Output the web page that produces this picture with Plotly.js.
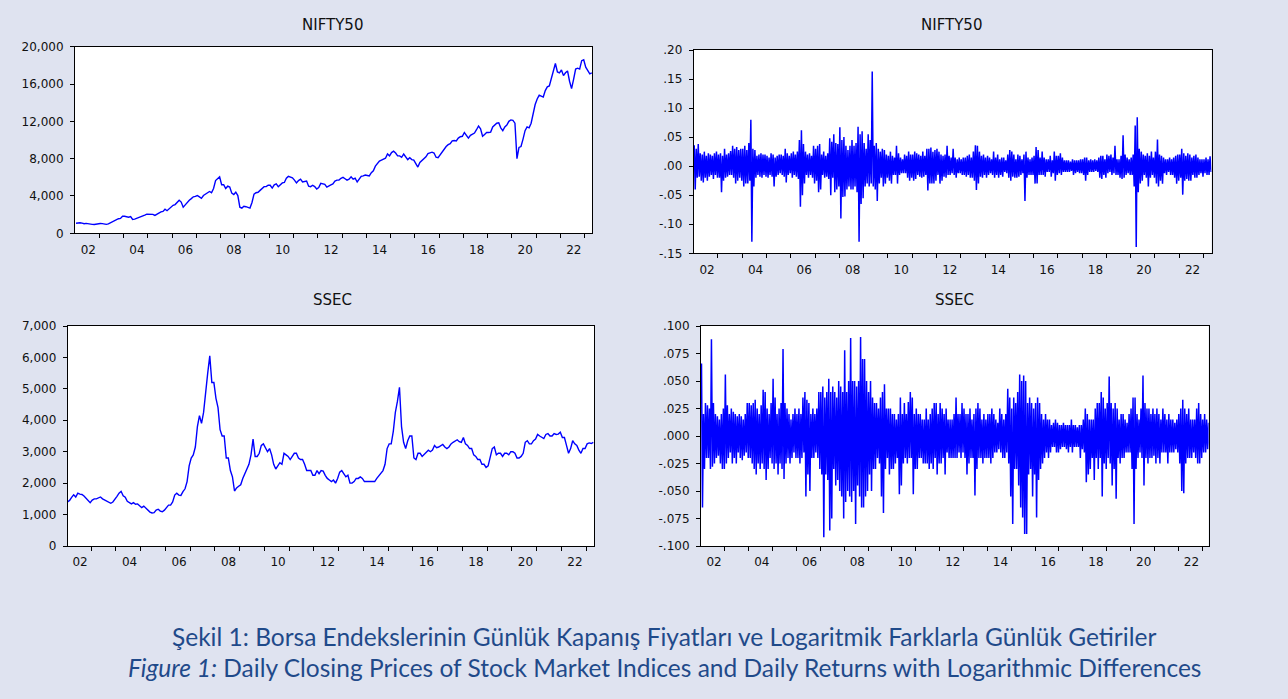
<!DOCTYPE html>
<html><head><meta charset="utf-8">
<script src="https://cdn.plot.ly/plotly-3.0.1.min.js"></script>
<style>html,body{margin:0;padding:0;background:#dfe3f0;}#chart{width:1288px;height:699px;}</style>
</head><body><div id="chart"></div>
<script>
// monthly series, Jan 2002 .. Apr 2023
const startYear = 2002;
const yearLabels = ["02","04","06","08","10","12","14","16","18","20","22"];
const yearBounds = [2003,2004,2005,2006,2007,2008,2009,2010,2011,2012,2013,2014,2015,2016,2017,2018,2019,2020,2021,2022,2023];

const niftyClose = [
1080,1120,1130,1090,1030,1060,1000,980,960,950,1000,1080,
1050,1040,990,960,1010,1130,1180,1330,1420,1560,1600,1830,
1830,1800,1730,1800,1480,1520,1600,1650,1740,1790,1950,2050,
2040,2060,2030,1920,2050,2200,2300,2350,2580,2420,2650,2830,
3000,3080,3380,3550,3350,2800,3050,3350,3550,3720,3910,3950,
4050,3900,3750,4050,4220,4300,4480,4350,4800,5650,5900,6050,
5200,5200,4800,5050,4950,4300,4150,4400,4050,2800,2700,2900,
2850,2750,2700,3300,4200,4350,4400,4600,4850,5000,5000,5150,
5150,4850,5200,5300,5000,5200,5400,5450,5900,6100,6000,5950,
5700,5400,5650,5800,5500,5550,5600,5050,5000,5150,5000,4750,
4900,5350,5300,5250,4950,5100,5200,5300,5600,5700,5700,5900,
6000,5850,5700,5800,6050,5800,5900,5500,5750,6100,6150,6250,
6200,6150,6500,6700,7200,7500,7750,7850,7950,8050,8500,8300,
8650,8800,8600,8300,8300,8150,8500,8200,7900,8100,7900,7850,
7500,7100,7600,7800,8000,8200,8550,8650,8700,8600,8150,8100,
8400,8800,9100,9300,9500,9600,9900,9950,9900,10200,10350,10400,
10800,10450,10200,10500,10650,10750,11100,11500,11200,10400,10600,10800,
10800,10850,11400,11650,11800,11850,11300,11000,11400,11600,12000,12150,
12100,11800,8000,9200,9300,10100,11000,11400,11300,11800,12800,13800,
14400,14800,14700,14600,15300,15700,15800,16600,17600,18200,17300,17200,
17500,16900,17200,17400,16300,15500,16500,17600,17700,17600,18500,18600,
17800,17500,17100,17200];

const ssecClose = [
1400,1450,1550,1630,1560,1680,1650,1640,1590,1520,1440,1380,
1460,1500,1500,1530,1560,1500,1470,1430,1390,1360,1400,1480,
1580,1680,1740,1600,1550,1420,1390,1340,1380,1330,1340,1280,
1220,1270,1200,1150,1080,1050,1060,1140,1170,1110,1090,1140,
1230,1300,1300,1400,1620,1680,1620,1610,1730,1820,2050,2550,
2800,2900,3150,3800,4150,3900,4250,5000,5500,6050,5200,5200,
4700,4400,3700,3500,3500,2800,2800,2400,2200,1750,1850,1900,
1950,2150,2300,2450,2600,2900,3400,2850,2850,2950,3200,3250,
3100,3000,3100,2900,2600,2450,2550,2650,2600,2950,2900,2850,
2750,2850,2950,2950,2800,2750,2750,2600,2400,2400,2400,2250,
2250,2400,2300,2400,2380,2250,2150,2100,2050,2100,2000,2150,
2350,2400,2280,2200,2250,2000,2000,2050,2150,2150,2200,2150,
2050,2050,2050,2030,2030,2050,2150,2230,2330,2400,2600,3100,
3250,3250,3650,4250,4600,5050,3800,3300,3100,3350,3500,3500,
2800,2750,2950,2950,2850,2920,2980,3050,3000,3050,3200,3130,
3150,3200,3230,3150,3100,3150,3250,3300,3350,3380,3320,3300,
3450,3250,3200,3100,3100,2900,2850,2750,2750,2600,2600,2500,
2550,2800,3100,3150,2900,2950,2950,2850,2950,2950,2900,3000,
3000,2950,2800,2800,2850,2950,3300,3350,3250,3250,3350,3400,
3550,3500,3450,3420,3550,3580,3500,3500,3580,3550,3560,3620,
3450,3450,3200,2950,3100,3350,3250,3200,3050,2950,3100,3100,
3250,3280,3260,3300];

// monthly highest and lowest daily log-returns
const niftyRetHigh = [
.036,.030,.038,.022,.020,.025,.018,.022,.020,.018,.022,.025,
.020,.022,.018,.030,.020,.022,.026,.035,.030,.033,.028,.030,
.030,.035,.028,.040,.080,.030,.028,.018,.020,.022,.020,.020,
.018,.015,.022,.020,.015,.018,.020,.020,.018,.030,.022,.018,
.022,.025,.020,.025,.045,.062,.038,.025,.020,.022,.018,.035,
.030,.035,.038,.020,.025,.018,.022,.048,.042,.055,.040,.038,
.067,.045,.050,.035,.028,.035,.045,.035,.040,.068,.055,.060,
.040,.030,.055,.045,.163,.035,.040,.030,.025,.030,.028,.020,
.018,.025,.018,.015,.035,.022,.015,.012,.020,.018,.025,.020,
.020,.025,.022,.020,.018,.025,.018,.030,.030,.032,.025,.028,
.030,.025,.020,.018,.020,.035,.018,.015,.030,.015,.012,.015,
.012,.015,.015,.018,.020,.015,.025,.036,.035,.025,.018,.020,
.015,.018,.015,.012,.025,.015,.020,.012,.015,.015,.010,.020,
.028,.025,.020,.012,.020,.018,.012,.020,.025,.015,.012,.015,
.018,.033,.028,.015,.025,.015,.012,.012,.018,.010,.025,.018,
.018,.022,.015,.010,.010,.010,.008,.012,.010,.010,.010,.012,
.012,.015,.015,.010,.012,.010,.012,.010,.015,.018,.018,.012,
.020,.018,.020,.015,.035,.012,.012,.018,.053,.020,.015,.012,
.015,.020,.070,.084,.030,.025,.020,.018,.022,.018,.025,.015,
.025,.046,.020,.018,.015,.012,.012,.015,.012,.015,.018,.020,
.020,.030,.022,.018,.022,.020,.015,.018,.020,.015,.012,.012,
.012,.015,.012,.017];
const niftyRetLow = [
-.040,-.020,-.018,-.025,-.028,-.020,-.025,-.018,-.015,-.022,-.015,-.020,
-.020,-.045,-.025,-.020,-.018,-.015,-.015,-.020,-.030,-.025,-.020,-.025,
-.035,-.030,-.030,-.025,-.130,-.035,-.020,-.015,-.018,-.020,-.015,-.018,
-.020,-.015,-.018,-.035,-.018,-.015,-.012,-.015,-.018,-.028,-.015,-.012,
-.020,-.015,-.018,-.022,-.070,-.050,-.030,-.015,-.020,-.015,-.020,-.030,
-.025,-.045,-.040,-.015,-.020,-.018,-.022,-.050,-.020,-.045,-.040,-.035,
-.090,-.053,-.052,-.040,-.035,-.040,-.040,-.035,-.045,-.130,-.065,-.055,
-.035,-.030,-.035,-.030,-.035,-.040,-.060,-.030,-.020,-.035,-.030,-.020,
-.025,-.030,-.015,-.015,-.030,-.015,-.012,-.012,-.012,-.020,-.025,-.020,
-.025,-.022,-.015,-.018,-.020,-.018,-.015,-.042,-.030,-.030,-.030,-.025,
-.015,-.030,-.025,-.018,-.020,-.015,-.015,-.012,-.015,-.020,-.012,-.012,
-.015,-.015,-.018,-.015,-.020,-.020,-.025,-.041,-.030,-.018,-.020,-.015,
-.020,-.015,-.012,-.015,-.020,-.015,-.020,-.015,-.018,-.010,-.012,-.020,
-.025,-.018,-.020,-.020,-.018,-.015,-.012,-.060,-.020,-.015,-.015,-.015,
-.030,-.030,-.015,-.015,-.015,-.018,-.010,-.010,-.018,-.012,-.025,-.015,
-.012,-.015,-.010,-.010,-.010,-.010,-.008,-.015,-.012,-.010,-.012,-.012,
-.015,-.025,-.015,-.010,-.010,-.010,-.008,-.010,-.020,-.022,-.015,-.020,
-.012,-.010,-.015,-.012,-.015,-.015,-.020,-.022,-.020,-.015,-.012,-.015,
-.015,-.035,-.139,-.045,-.030,-.025,-.015,-.020,-.035,-.020,-.015,-.020,
-.030,-.035,-.025,-.030,-.012,-.015,-.010,-.015,-.015,-.020,-.030,-.025,
-.020,-.049,-.025,-.022,-.025,-.025,-.015,-.020,-.020,-.015,-.012,-.018,
-.012,-.015,-.015,-.010];

const ssecRetHigh = [
.066,.020,.030,.028,.025,.088,.030,.020,.018,.015,.020,.025,
.056,.028,.020,.025,.022,.020,.018,.020,.018,.015,.020,.030,
.030,.028,.030,.033,.025,.020,.028,.042,.040,.025,.020,.030,
.052,.035,.020,.025,.030,.079,.030,.025,.020,.015,.020,.025,
.020,.025,.020,.035,.040,.033,.030,.020,.025,.020,.025,.040,
.040,.045,.035,.040,.052,.040,.045,.040,.035,.050,.045,.040,
.078,.040,.050,.089,.050,.050,.045,.050,.090,.070,.070,.050,
.040,.050,.035,.030,.030,.025,.035,.040,.047,.025,.025,.025,
.020,.020,.015,.020,.035,.020,.030,.020,.031,.040,.035,.020,
.025,.020,.020,.015,.015,.025,.015,.020,.025,.030,.030,.020,
.030,.025,.020,.025,.015,.015,.015,.020,.035,.020,.020,.030,
.025,.020,.020,.025,.015,.020,.025,.030,.025,.015,.020,.015,
.020,.020,.025,.020,.015,.012,.025,.020,.015,.020,.043,.035,
.025,.035,.030,.040,.056,.050,.055,.050,.030,.035,.030,.025,
.030,.035,.030,.020,.015,.020,.015,.015,.010,.012,.015,.012,
.010,.010,.012,.010,.010,.010,.015,.010,.010,.008,.010,.010,
.015,.025,.020,.015,.015,.015,.025,.030,.030,.040,.035,.025,
.030,.054,.030,.025,.030,.025,.015,.020,.020,.015,.012,.020,
.025,.035,.035,.020,.015,.025,.055,.030,.025,.025,.020,.025,
.020,.025,.020,.015,.025,.020,.015,.020,.015,.015,.012,.015,
.020,.025,.033,.025,.020,.025,.015,.015,.015,.025,.030,.020,
.015,.020,.015,.012];
const ssecRetLow = [
-.065,-.030,-.020,-.020,-.030,-.028,-.025,-.020,-.018,-.025,-.030,-.030,
-.025,-.020,-.015,-.025,-.020,-.025,-.015,-.020,-.022,-.018,-.015,-.020,
-.020,-.025,-.030,-.035,-.025,-.030,-.025,-.030,-.040,-.030,-.020,-.025,
-.030,-.025,-.035,-.025,-.030,-.039,-.025,-.020,-.025,-.020,-.015,-.020,
-.020,-.025,-.020,-.015,-.055,-.035,-.050,-.020,-.020,-.015,-.020,-.030,
-.035,-.092,-.035,-.040,-.086,-.075,-.030,-.045,-.040,-.050,-.055,-.075,
-.060,-.050,-.055,-.060,-.050,-.080,-.045,-.055,-.065,-.065,-.055,-.050,
-.035,-.050,-.030,-.030,-.020,-.025,-.055,-.070,-.030,-.020,-.035,-.030,
-.030,-.025,-.020,-.053,-.045,-.025,-.020,-.025,-.020,-.020,-.053,-.030,
-.030,-.020,-.020,-.025,-.025,-.025,-.030,-.025,-.030,-.020,-.035,-.025,
-.025,-.020,-.035,-.015,-.020,-.020,-.020,-.020,-.020,-.015,-.020,-.015,
-.020,-.035,-.025,-.020,-.020,-.054,-.030,-.020,-.020,-.025,-.020,-.020,
-.020,-.025,-.020,-.015,-.015,-.012,-.015,-.020,-.020,-.015,-.025,-.055,
-.080,-.030,-.030,-.045,-.065,-.074,-.089,-.089,-.035,-.030,-.055,-.035,
-.074,-.040,-.030,-.025,-.020,-.015,-.020,-.015,-.010,-.010,-.015,-.015,
-.012,-.010,-.010,-.012,-.015,-.010,-.015,-.010,-.010,-.010,-.020,-.012,
-.015,-.042,-.035,-.030,-.020,-.040,-.020,-.030,-.020,-.055,-.025,-.030,
-.020,-.025,-.045,-.030,-.057,-.020,-.025,-.020,-.020,-.015,-.015,-.015,
-.030,-.080,-.030,-.020,-.015,-.020,-.045,-.020,-.025,-.020,-.020,-.018,
-.025,-.020,-.025,-.015,-.015,-.015,-.025,-.015,-.015,-.015,-.012,-.015,
-.025,-.050,-.052,-.025,-.020,-.020,-.020,-.015,-.020,-.025,-.025,-.020,
-.015,-.015,-.012,-.012];

const niftyRetTicks = [-.15,-.10,-.05,0,.05,.10,.15,.20];
const niftyRetTickText = ["-.15","-.10","-.05",".00",".05",".10",".15",".20"];
const ssecRetTicks = [-.100,-.075,-.050,-.025,0,.025,.050,.075,.100];
const ssecRetTickText = ["-.100","-.075","-.050","-.025",".000",".025",".050",".075",".100"];

function monthX(i, frac){ return startYear + (i + frac) / 12; }
function priceXY(arr){ return {x: arr.map((v,i)=>monthX(i,0.5)), y: arr.slice()}; }
function zigzag(hi, lo){
  const x=[], y=[];
  for(let i=0;i<hi.length;i++){
    x.push(monthX(i,0.25)); y.push(hi[i]);
    x.push(monthX(i,0.75)); y.push(lo[i]);
  }
  return {x, y};
}

const blue = '#0000ff';
const p1 = priceXY(niftyClose), p3 = priceXY(ssecClose);
const r2 = zigzag(niftyRetHigh, niftyRetLow), r4 = zigzag(ssecRetHigh, ssecRetLow);
const traces = [
  {type:'scatter', mode:'lines', x:p1.x, y:p1.y, xaxis:'x', yaxis:'y', line:{color:blue, width:1.4}, hoverinfo:'skip'},
  {type:'scatter', mode:'lines', x:r2.x, y:r2.y, xaxis:'x2', yaxis:'y2', line:{color:blue, width:1.5}, hoverinfo:'skip'},
  {type:'scatter', mode:'lines', x:p3.x, y:p3.y, xaxis:'x3', yaxis:'y3', line:{color:blue, width:1.4}, hoverinfo:'skip'},
  {type:'scatter', mode:'lines', x:r4.x, y:r4.y, xaxis:'x4', yaxis:'y4', line:{color:blue, width:1.5}, hoverinfo:'skip'}
];

const fam = '"DejaVu Sans", Verdana, "Open Sans", sans-serif';
const tickFont = {family:fam, size:12, color:'#111'};
function xAx(domain, anchor, range){
  return {domain, anchor, range, fixedrange:true,
    tickmode:'array', tickvals: yearLabels.map(l=>2000 + Number(l) + 0.55), ticktext: yearLabels,
    ticks:'', ticklabelstandoff:5, tickfont:tickFont,
    showline:true, mirror:true, linecolor:'#000', linewidth:1, showgrid:false, zeroline:false,
    minor:{tickmode:'array', tickvals: yearBounds, ticks:'outside', ticklen:4, tickwidth:1, tickcolor:'#000', showgrid:false}};
}
function yAx(domain, anchor, range, extra){
  return Object.assign({domain, anchor, range, fixedrange:true,
    ticks:'outside', ticklen:4, tickwidth:1, tickcolor:'#000', ticklabelstandoff:4, tickfont:tickFont,
    showline:true, mirror:true, linecolor:'#000', linewidth:1, showgrid:false, zeroline:false}, extra);
}
const H = 699, W = 1288;
const px = v => v / W, py = v => 1 - v / H;
const titleFont = {family:fam, size:15, color:'#111'};
const capFont = {family:'Lato', size:24.5, color:'#1f4a8a'};

const layout = {
  width:W, height:H, margin:{l:0,r:0,t:0,b:0},
  paper_bgcolor:'#dfe3f0', plot_bgcolor:'#ffffff', showlegend:false,
  xaxis:  xAx([px(75), px(592)], 'y', [2002.0, 2023.3]),
  yaxis:  yAx([py(233.3), py(46.7)], 'x', [0, 20000], {tickmode:'linear', tick0:0, dtick:4000, tickformat:',d'}),
  xaxis2: xAx([px(693.7), px(1211.5)], 'y2', [2002.0, 2023.33]),
  yaxis2: yAx([py(253.3), py(50)], 'x2', [-0.15, 0.20], {tickmode:'array', tickvals:niftyRetTicks, ticktext:niftyRetTickText}),
  xaxis3: xAx([px(67.7), px(594)], 'y3', [2002.05, 2023.32]),
  yaxis3: yAx([py(546), py(326)], 'x3', [0, 7000], {tickmode:'linear', tick0:0, dtick:1000, tickformat:',d'}),
  xaxis4: xAx([px(701), px(1208.6)], 'y4', [2002.0, 2023.27]),
  yaxis4: yAx([py(546), py(326)], 'x4', [-0.1, 0.1], {tickmode:'array', tickvals:ssecRetTicks, ticktext:ssecRetTickText}),
  annotations: [
    {text:'NIFTY50', x:px(333), y:py(24.5), xref:'paper', yref:'paper', showarrow:false, xanchor:'center', yanchor:'middle', font:titleFont},
    {text:'NIFTY50', x:px(952), y:py(25.5), xref:'paper', yref:'paper', showarrow:false, xanchor:'center', yanchor:'middle', font:titleFont},
    {text:'SSEC', x:px(332), y:py(299.5), xref:'paper', yref:'paper', showarrow:false, xanchor:'center', yanchor:'middle', font:titleFont},
    {text:'SSEC', x:px(954), y:py(299.5), xref:'paper', yref:'paper', showarrow:false, xanchor:'center', yanchor:'middle', font:titleFont},
    {text:'Şekil 1: Borsa Endekslerinin Günlük Kapanış Fiyatları ve Logaritmik Farklarla Günlük Getiriler', x:px(664), y:py(636), xref:'paper', yref:'paper', showarrow:false, xanchor:'center', yanchor:'middle', font:capFont},
    {text:'<i>Figure 1:</i> Daily Closing Prices of Stock Market Indices and Daily Returns with Logarithmic Differences', x:px(664.5), y:py(667), xref:'paper', yref:'paper', showarrow:false, xanchor:'center', yanchor:'middle', font:capFont}
  ]
};
Plotly.newPlot('chart', traces, layout, {staticPlot:true, displayModeBar:false});
</script></body></html>
